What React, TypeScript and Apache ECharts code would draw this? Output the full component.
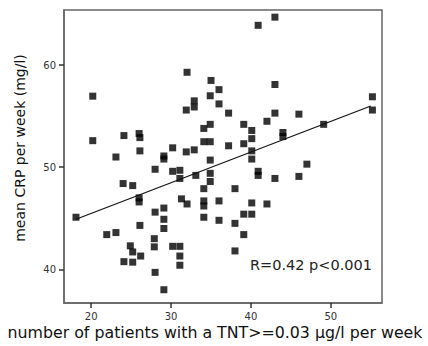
import React, { useEffect, useRef } from "react";
import * as echarts from "echarts";

// number of patients with TNT>=0.03 per week (x) and mean CRP per week (y)
const tntCount = [
  20.2, 20.2, 18.1, 24.1, 26.0, 26.1, 26.1, 23.1, 24.0, 25.2,
  26.0, 26.0, 26.1, 21.95, 23.1, 24.9, 25.2, 26.2, 24.1, 25.2,
  28.0, 28.0, 27.9, 27.9, 28.0, 29.1, 29.1, 30.2, 29.1, 29.1,
  29.1, 29.1, 30.2, 31.1, 31.1, 30.2, 31.1, 31.1, 31.1, 31.3,
  32.0, 32.0, 31.9, 32.9, 32.9, 31.9, 32.9, 33.1, 34.1, 34.1,
  34.9, 34.9, 35.0, 34.9, 36.0, 36.0, 37.2, 37.2, 34.9, 34.9,
  34.9, 34.1, 34.1, 34.1, 34.1, 36.0, 36.0, 38.0, 38.0, 38.0,
  39.1, 39.1, 40.1, 40.1, 40.1, 40.1, 39.1, 40.1, 40.1, 39.1,
  40.9, 43.0, 43.0, 43.0, 42.0, 44.0, 44.0, 40.9, 40.9, 43.0,
  42.0, 46.0, 46.0, 47.0, 49.1, 55.2, 55.2,
];
const meanCrp = [
  56.96, 52.6, 45.1, 53.1, 53.3, 52.9, 51.6, 51.0, 48.4, 48.2,
  47.0, 46.6, 44.3, 43.4, 43.6, 42.3, 41.7, 41.3, 40.75, 40.7,
  49.8, 45.6, 43.0, 42.2, 39.7, 51.1, 50.8, 51.9, 46.0, 44.9,
  44.0, 38.0, 49.6, 49.7, 48.9, 42.25, 42.25, 41.3, 40.4, 46.9,
  46.4, 59.3, 55.6, 56.5, 55.9, 51.5, 51.7, 49.2, 53.8, 52.5,
  52.5, 54.2, 58.5, 57.0, 57.6, 56.2, 55.3, 52.1, 50.7, 49.4,
  48.6, 47.9, 46.7, 46.2, 45.1, 46.7, 44.8, 47.9, 44.5, 41.8,
  54.2, 52.3, 53.6, 52.8, 51.6, 50.8, 45.4, 46.5, 45.4, 43.4,
  63.9, 64.7, 58.1, 55.3, 54.5, 53.4, 53.0, 49.6, 49.2, 48.9,
  46.4, 55.2, 49.1, 50.3, 54.2, 56.9, 55.6,
];
const fitLineX = [18.1, 55.0];
const fitLineY = [44.9, 56.0];
const xTicks = [20, 30, 40, 50];
const yTicks = [40, 50, 60];
const xTitle = "number of patients with a TNT>=0.03 µg/l per week";
const yTitle = "mean CRP per week (mg/l)";
const statText = "R=0.42 p<0.001";

const FONT = "'DejaVu Sans', 'Liberation Sans', Arial, sans-serif";

export default function App() {
  const ref = useRef<HTMLDivElement>(null);
  useEffect(() => {
    if (!ref.current) return;
    const chart = echarts.init(ref.current, null, { renderer: "svg" });
    const points = tntCount.map((x, i) => [x, meanCrp[i]]);
    const fit = fitLineX.map((x, i) => [x, fitLineY[i]]);
    chart.setOption({
      animation: false,
      backgroundColor: "#fff",
      grid: {
        left: 64,
        right: 46,
        top: 10,
        bottom: 43,
        show: true,
        borderColor: "#666",
        borderWidth: 1.5,
      },
      xAxis: {
        type: "value",
        min: 16.6,
        max: 56.4,
        axisLine: { show: true, onZero: false, lineStyle: { color: "#666", width: 1.5 } },
        axisTick: { show: true, length: 5, customValues: xTicks, lineStyle: { color: "#333", width: 1.5 } },
        axisLabel: { customValues: xTicks, fontSize: 10, color: "#333", margin: 8, fontFamily: FONT },
        splitLine: { show: false },
      },
      yAxis: {
        type: "value",
        min: 36.7,
        max: 65.4,
        axisLine: { show: true, onZero: false, lineStyle: { color: "#666", width: 1.5 } },
        axisTick: { show: true, length: 5, customValues: yTicks, lineStyle: { color: "#333", width: 1.5 } },
        axisLabel: { customValues: yTicks, fontSize: 10, color: "#333", margin: 8, fontFamily: FONT },
        splitLine: { show: false },
      },
      series: [
        {
          type: "scatter",
          data: points,
          symbol: "rect",
          symbolSize: 7,
          itemStyle: { color: "#000" },
        },
        {
          type: "line",
          data: fit,
          symbol: "none",
          lineStyle: { color: "#111", width: 1.2 },
        },
      ],
      graphic: [
        {
          type: "text",
          x: 215,
          y: 332,
          style: {
            text: xTitle,
            fontSize: 15.8,
            fontFamily: FONT,
            fill: "#111",
            align: "center",
            verticalAlign: "middle",
          },
        },
        {
          type: "text",
          x: 20,
          y: 148,
          rotation: Math.PI / 2,
          style: {
            text: yTitle,
            fontSize: 14,
            fontFamily: FONT,
            fill: "#111",
            align: "center",
            verticalAlign: "middle",
          },
        },
        {
          type: "text",
          x: 250,
          y: 265,
          style: {
            text: statText,
            fontSize: 14.5,
            fontFamily: FONT,
            fill: "#222",
            align: "left",
            verticalAlign: "middle",
          },
        },
      ],
    });
    return () => chart.dispose();
  }, []);
  return (
    <div
      ref={ref}
      style={{ position: "absolute", left: 0, top: 0, width: 428, height: 346 }}
    />
  );
}
